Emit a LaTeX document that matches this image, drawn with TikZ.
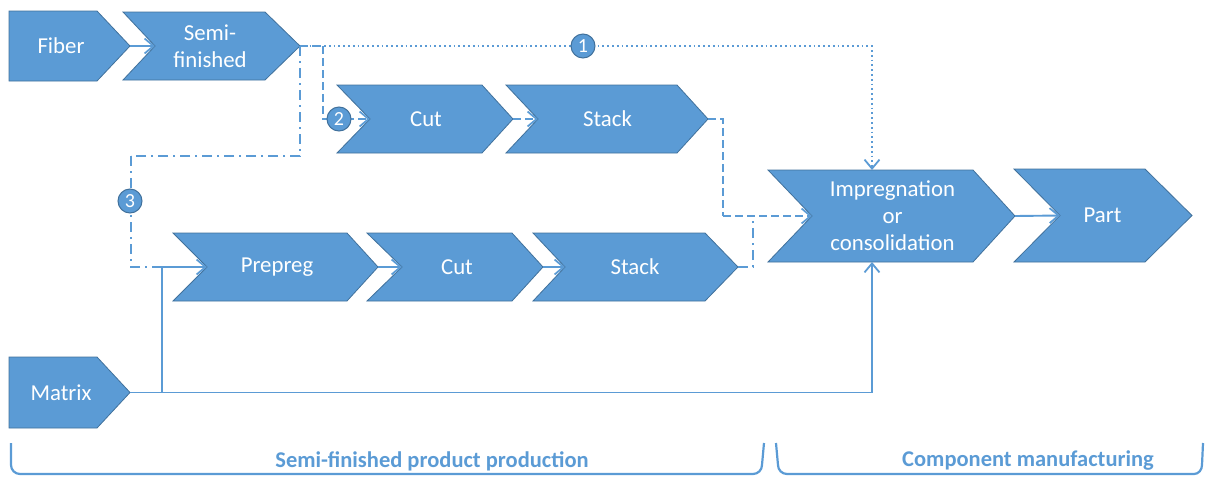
\documentclass[tikz,border=0pt]{standalone}
\usepackage{fontspec}
\setmainfont{Carlito}
\usetikzlibrary{arrows.meta}
\definecolor{boxfill}{HTML}{5B9BD5}
\definecolor{boxline}{HTML}{41719C}
\definecolor{flowline}{HTML}{5B9BD5}
\tikzset{
  chevbox/.style={fill=boxfill,draw=boxline,line width=0.8pt,line join=miter},
  chevtext/.style={text=white,align=center,font=\fontsize{22.8}{27}\selectfont,inner sep=0pt},
  flow/.style={draw=flowline,line width=1.9pt},
  tip/.style={-{Straight Barb[length=9pt,width=15pt,line width=1.8pt]}},
  dotline/.style={flow,dash pattern=on 1.8pt off 3pt},
  dashline/.style={flow,dash pattern=on 8pt off 4pt},
  dashdotline/.style={flow,dash pattern=on 10pt off 5pt on 2pt off 5pt},
  numcircle/.style={circle,fill=boxfill,draw=boxline,line width=1pt,minimum size=24pt,inner sep=0pt,text=white,font=\fontsize{20}{20}\selectfont},
  brace/.style={draw=flowline,line width=2.2pt},
  phase/.style={text=flowline,font=\fontsize{22.5}{26}\selectfont\bfseries}
}
% chevron: name, text, left x, notch depth, flat end x, tip x, top y, bottom y
\newcommand\chevron[8]{%
  \pgfmathsetmacro\ymid{(#7+#8)/2}%
  \pgfmathsetmacro\xtext{(#3+#4+#5)/2+ifthenelse(#4==0,8,0)}%
  \draw[chevbox] (#3,#7) -- (#5,#7) -- (#6,\ymid) -- (#5,#8) -- (#3,#8) -- (#3+#4,\ymid) -- cycle;
  \coordinate (#1-in) at (#3+#4,\ymid);
  \coordinate (#1-out) at (#6,\ymid);
  \node[chevtext] (#1) at (\xtext,\ymid) {#2};
}
\begin{document}
\begin{tikzpicture}[x=1pt,y=-1pt]
\useasboundingbox (0,0) rectangle (1208,477);

% process steps
\chevron{fiber}{Fiber}{9}{0}{97}{130}{11}{81}
\chevron{semi}{Semi-\\finished}{123}{32}{265}{300}{12}{80}
\chevron{cuta}{Cut}{337}{33}{482}{513}{85}{153}
\chevron{stacka}{Stack}{506}{32}{677}{708}{85}{153}
\chevron{prep}{Prepreg}{173}{34}{347}{378}{233}{301}
\chevron{cutb}{Cut}{367}{35}{512}{543}{233}{301}
\chevron{stackb}{Stack}{533}{32}{705}{738}{233}{301}
\chevron{imp}{Impregnation\\or\\consolidation}{768}{44}{973}{1015}{170}{262}
\chevron{part}{Part}{1014}{46}{1145}{1192}{169}{262}
\chevron{matrix}{Matrix}{9}{0}{97}{130}{357}{428}

% junction points of the routes
\coordinate (imp-top) at (872,170);
\coordinate (imp-bot) at (872,262);
\coordinate (r2) at (323,46);
\coordinate (r3) at (131,156);
\coordinate (mjoin) at (162,267);
\coordinate (ka) at (723,216);
\coordinate (kb) at (753,216);

% solid links
\draw[flow,tip] (fiber-out) -- (semi-in);
\draw[flow,tip] (prep-out) -- (cutb-in);
\draw[flow,tip] (cutb-out) -- (stackb-in);
\draw[flow,tip] (imp-out) -- (part-in);

% route 1: direct impregnation
\draw[dotline,tip] (semi-out) -| (imp-top);
% route 2: cut and stack the semi-finished product
\draw[dashline] (semi-out) -- (r2);
\draw[dashline,tip] (r2) |- (cuta-in);
\draw[dashline,tip] (cuta-out) -- (stacka-in);
\draw[dashline] (stacka-out) -| (ka);
\draw[dashline,tip] (ka) -- (imp-in);
% route 3: via prepreg
\draw[dashdotline] (semi-out) |- (r3);
\draw[dashdotline] (r3) |- (mjoin);
\draw[dashdotline] (stackb-out) -| (kb);

% matrix feed
\draw[flow] (matrix-out) -| (mjoin);
\draw[flow,tip] (mjoin) -- (prep-in);
\draw[flow,tip] (matrix-out) -| (imp-bot);

% route numbers
\node[numcircle] (n1) at (583,46) {1};
\node[numcircle] (n2) at (339,119) {2};
\node[numcircle] (n3) at (130,201) {3};

% phase brackets
\draw[brace] (11,443) -- (11,465) to[out=-90,in=180] (20,474) -- (753,474) to[out=0,in=-90] (762,465) -- (764,443);
\draw[brace] (776,443) -- (778,465) to[out=-90,in=180] (787,474) -- (1194,474) to[out=0,in=-90] (1202,465) -- (1203,443);
\node[phase] (ph1) at (432,461) {Semi-finished product production};
\node[phase] (ph2) at (1028,461) {Component manufacturing};
\end{tikzpicture}
\end{document}
